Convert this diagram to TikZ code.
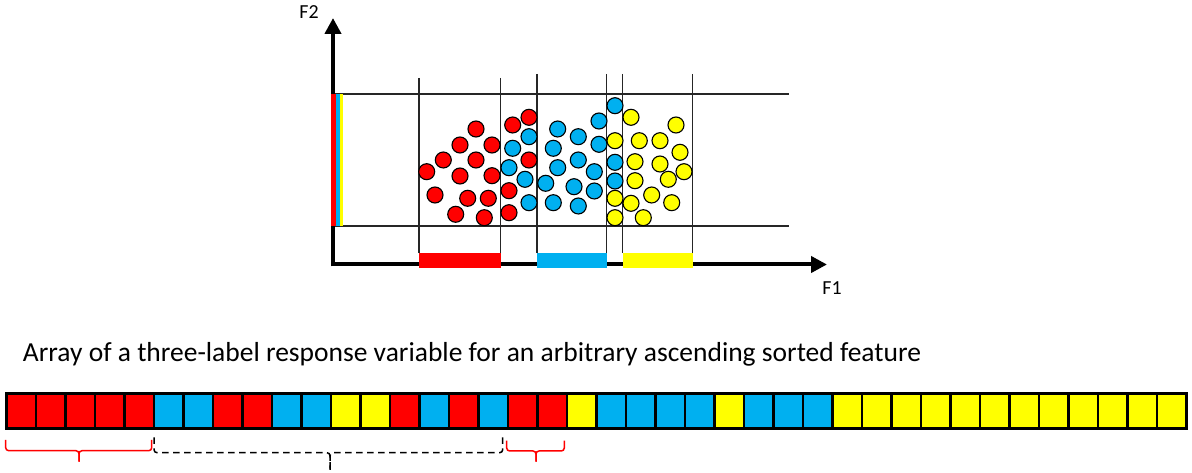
\documentclass[tikz,border=0pt]{standalone}
\usepackage{fontspec}
\setmainfont{Carlito}
\usetikzlibrary{arrows.meta}
\definecolor{cR}{HTML}{FF0000}
\definecolor{cB}{HTML}{00B0F0}
\definecolor{cY}{HTML}{FFFF00}
\tikzset{
  axis/.style={line width=4bp, -{Triangle[length=16bp,width=16bp]}},
  grid/.style={line width=1.2bp, black!85},
  dot/.style={circle, draw=black, line width=1.1bp, minimum size=16bp, inner sep=0pt},
  bar/.style={fill=#1, draw=none},
  cell/.style={fill=#1, draw=black, line width=2.5bp},
  rbrace/.style={draw=cR, line width=1.5bp, rounded corners=3bp},
  kbrace/.style={draw=black, line width=1.5bp, rounded corners=3bp, dash pattern=on 6.5bp off 4.5bp},
  lbl/.style={font=\fontsize{20}{24}\selectfont, inner sep=0pt}
}
\begin{document}
\begin{tikzpicture}[x=1bp,y=-1bp]
\useasboundingbox (0,0) rectangle (1192,473);
% grid lines
\draw[grid] (333,94) -- (789,94);
\draw[grid] (333,226) -- (789,226);
\foreach \x/\t in {419/78, 500.7/78, 537/74, 606.7/74, 622.7/74, 692.3/74}
  \draw[grid] (\x,\t) -- (\x,253.5);
% axes
\coordinate (O) at (333,264.5);
\coordinate (Ytip) at (333,18);
\coordinate (Xtip) at (827,264.5);
\draw[axis] (333,266.5) -- (Ytip);
\draw[axis] (331,264.5) -- (Xtip);
\node[lbl] (F2) at (309,12) {F2};
\node[lbl] (F1) at (832,288) {F1};
% stripes on y axis
\fill[cR] (331,94) rectangle (335.7,226);
\fill[cB] (335.7,94) rectangle (340,226);
\fill[cY] (340,94) rectangle (343.3,226);
% bars
\fill[bar=cR] (419,253.3) rectangle (501,268.3);
\fill[bar=cB] (537,253.3) rectangle (607,268.3);
\fill[bar=cY] (622.7,253.3) rectangle (693,268.3);
% red dots
\foreach \x/\y [count=\i] in {426.7/171.7, 443.3/160, 460/145, 476/129, 476/160, 492/145, 460/176, 492/175.7, 435/195, 467.7/198.3, 488.3/198.3, 455.7/214.3, 484.3/217.7, 512.7/125, 529/117.3, 529/160, 509/190.7, 509/212.7}
  \node[dot, fill=cR] (r\i) at (\x,\y) {};
% blue dots
\foreach \x/\y [count=\i] in {529/136.7, 512.7/148.3, 509/167.7, 525/179.3, 529/202.7, 557.7/129, 553.3/148.3, 557.7/167.7, 545.7/183.3, 553.3/202.7, 578.3/136.7, 578.3/160, 594.3/171.7, 574/186.7, 594.3/191, 578.3/206, 599/121, 599/144.3, 615/105.7, 615/162.3, 615/181}
  \node[dot, fill=cB] (b\i) at (\x,\y) {};
% yellow dots
\foreach \x/\y [count=\i] in {615/140.7, 615/198.3, 615/217.7, 631/117.3, 639.3/140.7, 635/161.7, 635/180.7, 631/203.3, 643.3/217.7, 651.7/195, 660/140.7, 660/164, 668.3/179.3, 671.7/202.7, 676/125, 680/152.3, 684/171.7}
  \node[dot, fill=cY] (y\i) at (\x,\y) {};
% caption
\node[anchor=base west, inner sep=0pt, font=\fontsize{27.6}{31}\selectfont] (title) at (22.7,361.7)
  {Array of a three-label response variable for an arbitrary ascending sorted feature};
% array
\foreach \c [count=\i from 0] in {cR,cR,cR,cR,cR,cB,cB,cR,cR,cB,cB,cY,cY,cR,cB,cR,cB,cR,cR,cY,cB,cB,cB,cB,cY,cB,cB,cB,cY,cY,cY,cY,cY,cY,cY,cY,cY,cY,cY,cY}
  \draw[cell=\c] ({6.7+29.5*\i},393.3) rectangle ({6.7+29.5*(\i+1)},428.3);
% braces
\draw[rbrace] (5.7,440) -- (5.7,450.7) -- (79,450.7) -- (79,461.7);
\draw[rbrace] (151.7,440) -- (151.7,450.7) -- (79,450.7) -- (79,461.7);
\draw[kbrace] (154,437.3) -- (154,452.7) -- (330,452.7) -- (330,470);
\draw[kbrace] (502.7,437.3) -- (502.7,452.7) -- (330,452.7) -- (330,470);
\draw[rbrace] (506.7,440.7) -- (506.7,451) -- (536,451) -- (536,461.7);
\draw[rbrace] (564.3,440.7) -- (564.3,451) -- (536,451) -- (536,461.7);
\end{tikzpicture}
\end{document}
